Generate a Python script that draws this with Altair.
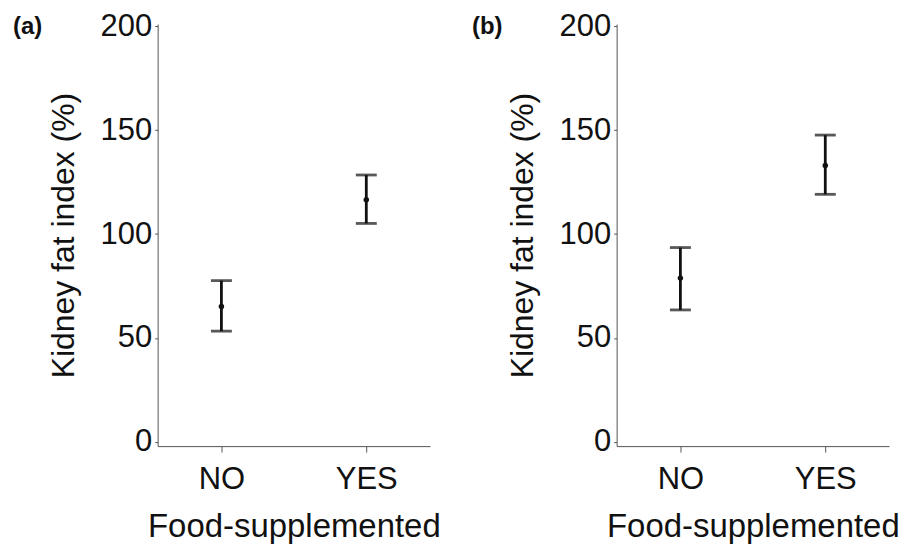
import altair as alt
import pandas as pd

# Kidney fat index (%) by food supplementation, mean with lower/upper error limits
groups = ["NO", "YES"]

mean_a = [65.1, 116.5]
lower_a = [53.3, 105.1]
upper_a = [77.6, 128.4]

mean_b = [78.8, 133.0]
lower_b = [63.5, 119.1]
upper_b = [93.5, 147.6]

y_ticks = [0, 50, 100, 150, 200]

FONT = "Liberation Sans"
INK = "#111111"
PLOT_W = 273
PLOT_H = 423


def panel(tag, means, lowers, uppers):
    df = pd.DataFrame({"group": groups, "mean": means, "lower": lowers, "upper": uppers})
    x = alt.X(
        "group:N",
        sort=groups,
        scale=alt.Scale(type="point", padding=0.44),
        axis=alt.Axis(
            title="Food-supplemented",
            titleFont=FONT, titleFontSize=33, titleFontWeight="normal", titleColor=INK,
            titleY=81, titleBaseline="middle",
            labelFont=FONT, labelFontSize=31, labelColor=INK, labelAngle=0,
            labelPadding=12, labelBaseline="top",
            tickSize=6, tickColor="#555555", tickWidth=1,
            domainColor="#555555", domainWidth=1, grid=False,
        ),
    )
    yscale = alt.Scale(domain=[-2, 201], nice=False, zero=False)
    yaxis = alt.Axis(
        title="Kidney fat index (%)",
        titleFont=FONT, titleFontSize=32, titleFontWeight="normal", titleColor=INK,
        titleX=-94, titleY=PLOT_H / 2, titleBaseline="middle", titleAlign="center", titleAngle=270,
        values=y_ticks,
        labelFont=FONT, labelFontSize=31, labelColor=INK, labelPadding=3,
        tickSize=3, tickColor="#555555", tickWidth=1,
        domainColor="#555555", domainWidth=1, grid=False,
    )
    base = alt.Chart(df)
    bars = base.mark_rule(color=INK, strokeWidth=2.8).encode(
        x=x, y=alt.Y("lower:Q", scale=yscale, axis=yaxis), y2="upper:Q"
    )
    cap_lo = base.mark_tick(color=INK, size=21, thickness=2.8).encode(x=x, y=alt.Y("lower:Q", scale=yscale))
    cap_hi = base.mark_tick(color=INK, size=21, thickness=2.8).encode(x=x, y=alt.Y("upper:Q", scale=yscale))
    dots = base.mark_point(color=INK, filled=True, opacity=1, size=30).encode(
        x=x, y=alt.Y("mean:Q", scale=yscale)
    )
    tag_text = alt.Chart(pd.DataFrame({"tag": [tag]})).mark_text(
        font=FONT, fontSize=24, fontWeight="bold", color=INK, align="left", baseline="middle"
    ).encode(text="tag:N", x=alt.value(-145), y=alt.value(3))
    return alt.layer(bars, cap_lo, cap_hi, dots, tag_text).properties(width=PLOT_W, height=PLOT_H)


chart = (
    alt.hconcat(
        panel("(a)", mean_a, lower_a, upper_a),
        panel("(b)", mean_b, lower_b, upper_b),
        spacing=31,
    )
    .properties(
        padding={"left": 13, "top": 9.5, "right": 5, "bottom": 0},
        background="white",
    )
    .configure_view(strokeWidth=0)
)

chart.save("out.html", embed_options={"renderer": "svg", "actions": False})
